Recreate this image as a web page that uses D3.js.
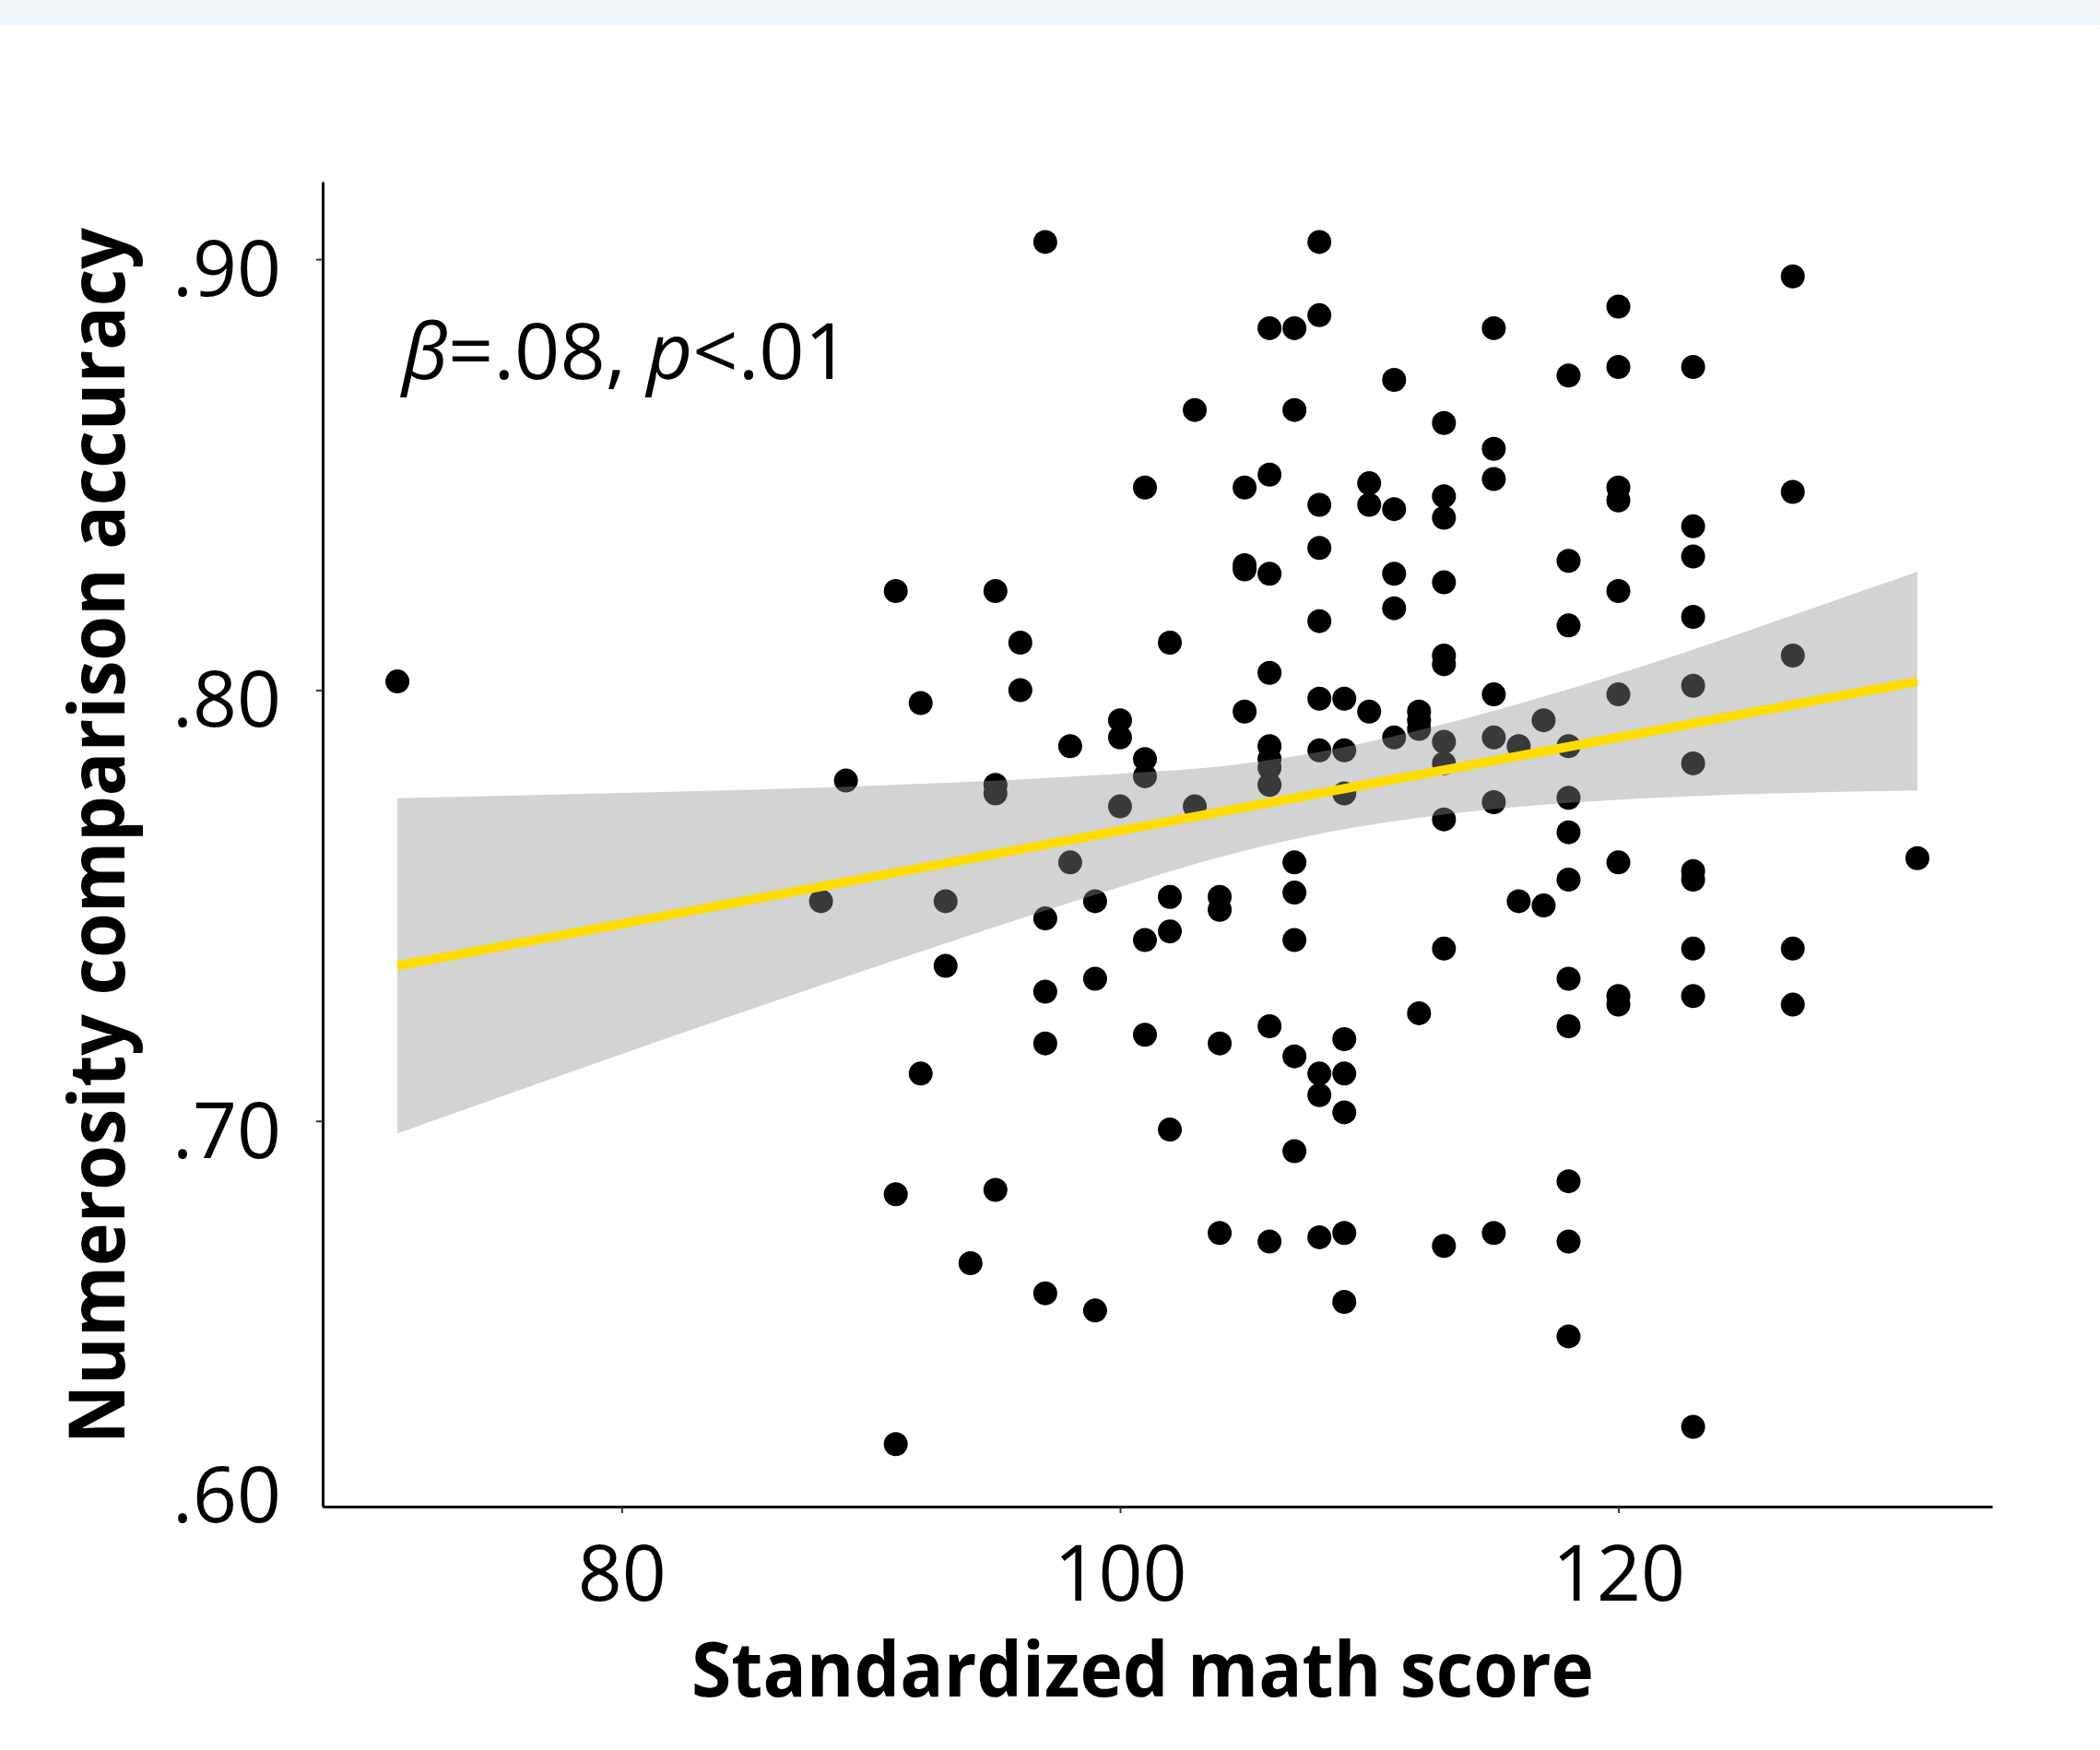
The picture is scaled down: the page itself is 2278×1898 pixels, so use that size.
<!DOCTYPE html>
<html>
<head>
<meta charset="utf-8">
<script src="https://cdn.jsdelivr.net/npm/d3@7"></script>
<style>
  body { margin: 0; background: #fff; }
  text { font-family: 'Open Sans', sans-serif; fill: #000; }
</style>
</head>
<body>
<svg id="chart"></svg>
<script>
const width = 2278;
const height = 1898;
const margin = {left: 350, right: 117, top: 197, bottom: 264};
const plotWidth = width - margin.left - margin.right;
const plotHeight = height - margin.top - margin.bottom;

// one entry per child
const mathScore = [
  71,
  88,
  89,
  91, 91, 91,
  92, 92,
  93, 93,
  94,
  95, 95, 95, 95,
  96, 96,
  97, 97, 97, 97, 97,
  98, 98,
  99, 99, 99,
  100, 100, 100,
  101, 101, 101, 101, 101,
  102, 102, 102, 102,
  103, 103,
  104, 104, 104, 104,
  105, 105, 105, 105,
  106, 106, 106, 106, 106, 106, 106, 106, 106, 106,
  107, 107, 107, 107, 107, 107, 107,
  108, 108, 108, 108, 108, 108, 108, 108, 108, 108,
  109, 109, 109, 109, 109, 109, 109, 109,
  110, 110, 110,
  111, 111, 111, 111, 111,
  112, 112, 112, 112,
  113, 113, 113, 113, 113, 113, 113, 113, 113, 113, 113,
  115, 115, 115, 115, 115, 115, 115,
  116, 116,
  117, 117,
  118, 118, 118, 118, 118, 118, 118, 118, 118, 118, 118, 118,
  120, 120, 120, 120, 120, 120, 120, 120, 120,
  123, 123, 123, 123, 123, 123, 123, 123, 123, 123, 123,
  127, 127, 127, 127, 127,
  132
];

const accuracy = [
  0.802,
  0.751,
  0.779,
  0.823, 0.683, 0.625,
  0.797, 0.711,
  0.751, 0.736,
  0.667,
  0.823, 0.778, 0.776, 0.684,
  0.811, 0.800,
  0.904, 0.747, 0.730, 0.718, 0.660,
  0.787, 0.760,
  0.751, 0.733, 0.656,
  0.793, 0.789, 0.773,
  0.847, 0.784, 0.780, 0.742, 0.720,
  0.811, 0.752, 0.744, 0.698,
  0.865, 0.773,
  0.752, 0.749, 0.718, 0.674,
  0.847, 0.829, 0.828, 0.795,
  0.884, 0.850, 0.827, 0.804, 0.787, 0.784, 0.782, 0.778, 0.722, 0.672,
  0.884, 0.865, 0.760, 0.753, 0.742, 0.715, 0.693,
  0.904, 0.887, 0.843, 0.833, 0.816, 0.798, 0.786, 0.711, 0.706, 0.673,
  0.798, 0.786, 0.776, 0.719, 0.711, 0.702, 0.674, 0.658,
  0.848, 0.843, 0.795,
  0.872, 0.842, 0.827, 0.819, 0.789,
  0.795, 0.793, 0.791, 0.725,
  0.862, 0.845, 0.840, 0.825, 0.808, 0.806, 0.788, 0.783, 0.770, 0.740, 0.671,
  0.884, 0.856, 0.849, 0.799, 0.789, 0.774, 0.674,
  0.787, 0.751,
  0.793, 0.750,
  0.873, 0.830, 0.815, 0.787, 0.775, 0.767, 0.756, 0.733, 0.722, 0.686, 0.672, 0.650,
  0.889, 0.875, 0.847, 0.844, 0.823, 0.799, 0.760, 0.729, 0.727,
  0.875, 0.838, 0.831, 0.817, 0.801, 0.783, 0.758, 0.756, 0.740, 0.729, 0.629,
  0.896, 0.846, 0.808, 0.740, 0.727,
  0.761
];

// fitted line and its confidence band
const fitScore = [71, 132];
const fitAccuracy = [0.736, 0.802];

const bandScore = [71, 80, 90, 99.5, 104.5, 108.5, 113, 118, 123, 127.5, 132];
const bandLower = [0.6971, 0.7155, 0.7354, 0.7534, 0.7620, 0.7672, 0.7711, 0.7738, 0.7754, 0.7762, 0.7767];
const bandUpper = [0.7749, 0.7761, 0.7778, 0.7804, 0.7826, 0.7862, 0.7921, 0.8002, 0.8094, 0.8184, 0.8275];

const xTicks = [80, 100, 120];
const yTicks = [0.7, 0.8, 0.9];
const yDomain = [0.6105, 0.918];
const xDomain = [68, 135];

const svg = d3.select('#chart')
  .attr('width', width)
  .attr('height', height);

svg.append('rect')
  .attr('width', width)
  .attr('height', 27)
  .attr('fill', '#eff4f8');

const chart = svg.append('g')
  .attr('transform', `translate(${margin.left}, ${margin.top})`);

const xScale = d3.scaleLinear()
  .domain(xDomain)
  .range([0, plotWidth]);

const yScale = d3.scaleLinear()
  .domain(yDomain)
  .range([plotHeight, 0]);

const points = mathScore.map((d, i) => ({score: d, acc: accuracy[i]}));

chart.append('g')
  .selectAll('circle')
  .data(points)
  .enter()
  .append('circle')
  .attr('cx', d => xScale(d.score))
  .attr('cy', d => yScale(d.acc))
  .attr('r', 13)
  .attr('fill', '#000');

const band = bandScore.map((d, i) => ({score: d, lo: bandLower[i], hi: bandUpper[i]}));

chart.append('path')
  .datum(band)
  .attr('fill', '#909090')
  .attr('fill-opacity', 0.4)
  .attr('d', d3.area()
    .curve(d3.curveMonotoneX)
    .x(d => xScale(d.score))
    .y0(d => yScale(d.lo))
    .y1(d => yScale(d.hi)));

chart.append('path')
  .datum(fitScore.map((d, i) => [d, fitAccuracy[i]]))
  .attr('fill', 'none')
  .attr('stroke', '#ffdd00')
  .attr('stroke-width', 10)
  .attr('d', d3.line()
    .x(d => xScale(d[0]))
    .y(d => yScale(d[1])));

// axes
const fmt = d => d3.format('.2f')(d).replace(/^0/, '');

const yAxis = chart.append('g')
  .call(d3.axisLeft(yScale)
    .tickValues(yTicks)
    .tickFormat(fmt)
    .tickSize(7)
    .tickSizeOuter(0)
    .tickPadding(38));

const xAxis = chart.append('g')
  .attr('transform', `translate(0, ${plotHeight})`)
  .call(d3.axisBottom(xScale)
    .tickValues(xTicks)
    .tickSize(7)
    .tickSizeOuter(0)
    .tickPadding(35));

[yAxis, xAxis].forEach(ax => {
  ax.select('.domain').attr('stroke', '#000').attr('stroke-width', 3);
  ax.selectAll('.tick line').attr('stroke', '#333').attr('stroke-width', 2);
  ax.selectAll('.tick text')
    .attr('font-family', "'Open Sans', sans-serif")
    .attr('font-size', 84)
    .attr('fill', '#000');
});
yAxis.selectAll('.tick text').attr('dy', '0.47em');

// bottom label sits at the corner of the axes
yAxis.append('text')
  .attr('x', -45)
  .attr('y', yScale(yDomain[0]))
  .attr('dy', '0.2em')
  .attr('text-anchor', 'end')
  .attr('font-family', "'Open Sans', sans-serif")
  .attr('font-size', 84)
  .attr('fill', '#000')
  .text(fmt(0.6));

// titles
svg.append('text')
  .attr('x', 750)
  .attr('y', 1840)
  .attr('font-size', 82)
  .attr('font-weight', 700)
  .attr('textLength', 979)
  .attr('lengthAdjust', 'spacingAndGlyphs')
  .text('Standardized math score');

svg.append('text')
  .attr('transform', 'translate(135, 1566) rotate(-90)')
  .attr('font-size', 84)
  .attr('font-weight', 700)
  .attr('textLength', 1319)
  .attr('lengthAdjust', 'spacingAndGlyphs')
  .text('Numerosity comparison accuracy');

const note = svg.append('text')
  .attr('x', 436)
  .attr('y', 411)
  .attr('font-size', 84)
  .attr('textLength', 486)
  .attr('lengthAdjust', 'spacingAndGlyphs');
note.append('tspan').attr('font-style', 'italic').text('β');
note.append('tspan').text('=.08, ');
note.append('tspan').attr('font-style', 'italic').text('p');
note.append('tspan').text('<.01');
</script>
</body>
</html>
